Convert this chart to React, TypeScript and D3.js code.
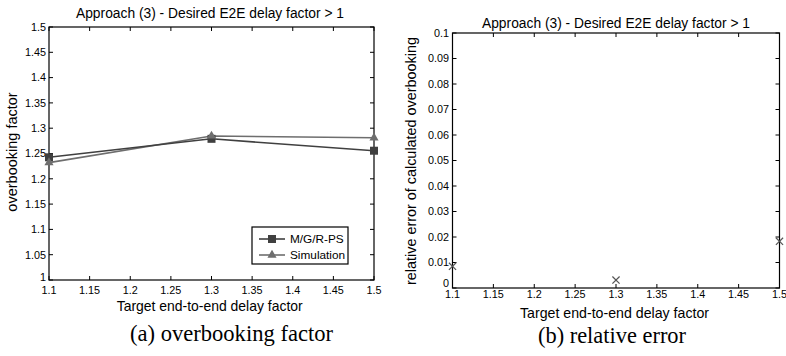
import React from "react";
import * as d3 from "d3";

const delayFactors = [1.1, 1.3, 1.5];
const mgrpsValues = [1.2425, 1.279, 1.2555];
const simulationValues = [1.232, 1.2846, 1.281];
const relErrorValues = [0.0085, 0.0031, 0.0183];

const xTicks = [1.1, 1.15, 1.2, 1.25, 1.3, 1.35, 1.4, 1.45, 1.5];
const yTicksA = [1, 1.05, 1.1, 1.15, 1.2, 1.25, 1.3, 1.35, 1.4, 1.45, 1.5];
const yTicksB = [0, 0.01, 0.02, 0.03, 0.04, 0.05, 0.06, 0.07, 0.08, 0.09, 0.1];

const titleText = "Approach (3) - Desired E2E delay factor > 1";
const xLabel = "Target end-to-end delay factor";
const seriesNames = ["M/G/R-PS", "Simulation"];

const SANS = "'Liberation Sans', Arial, sans-serif";
const SERIF = "'Liberation Serif', 'Times New Roman', serif";
const TICK_LEN = 4;

function fmt(v: number) {
  return String(+v.toFixed(3));
}

function Frame({ x, y, xt, yt }: any) {
  const [x0, x1] = x.range();
  const [y0, y1] = y.range(); // y0 bottom, y1 top
  return (
    <g>
      <rect x={x0} y={y1} width={x1 - x0} height={y0 - y1} fill="none" stroke="#000" strokeWidth={1.2} />
      {xt.map((t: number) => (
        <g key={"x" + t}>
          <line x1={x(t)} x2={x(t)} y1={y0} y2={y0 - TICK_LEN} stroke="#000" />
          <line x1={x(t)} x2={x(t)} y1={y1} y2={y1 + TICK_LEN} stroke="#000" />
        </g>
      ))}
      {yt.map((t: number) => (
        <g key={"y" + t}>
          <line x1={x0} x2={x0 + TICK_LEN} y1={y(t)} y2={y(t)} stroke="#000" />
          <line x1={x1} x2={x1 - TICK_LEN} y1={y(t)} y2={y(t)} stroke="#000" />
        </g>
      ))}
    </g>
  );
}

export default function App() {
  // Panel (a)
  const xA = d3.scaleLinear().domain([1.1, 1.5]).range([49, 374]);
  const yA = d3.scaleLinear().domain([1, 1.5]).range([280, 27]);
  // Panel (b)
  const xB = d3.scaleLinear().domain([1.1, 1.5]).range([452.5, 779.5]);
  const yB = d3.scaleLinear().domain([0, 0.1]).range([288, 33]);

  const lineA = d3
    .line<number>()
    .x((_, i) => xA(delayFactors[i]))
    .y((d) => yA(d));

  const tri = d3.symbol().type(d3.symbolTriangle).size(36)();
  const tickFont = 10.8;
  const titleFont = 13.8;
  const yLabelFont = 14.5;
  const xLabelFont = 13.9;

  const mgColor = "#404040";
  const simColor = "#6e6e6e";

  const legX = 252;
  const legY = 227;

  return (
    <svg
      width={786}
      height={356}
      style={{ position: "absolute", left: 0, top: 0, background: "#fff" }}
      fontFamily={SANS}
    >
      <rect x={0} y={0} width={786} height={356} fill="#fff" />

      {/* ---------- Panel (a) ---------- */}
      <text x={210} y={17.5} fontSize={titleFont} textAnchor="middle" textLength={268} lengthAdjust="spacingAndGlyphs">{titleText}</text>
      <Frame x={xA} y={yA} xt={xTicks} yt={yTicksA} />
      {yTicksA.map((t, i) => (
        <text key={"ya" + t} x={46} y={yA(t) - (i === 0 ? 3 : 0)} dy="0.36em" fontSize={tickFont} textAnchor="end">{fmt(t)}</text>
      ))}
      {xTicks.map((t) => (
        <text key={"xa" + t} x={xA(t)} y={294} fontSize={tickFont} textAnchor="middle">{fmt(t)}</text>
      ))}
      <text x={209.7} y={310.5} fontSize={xLabelFont} textAnchor="middle" textLength={186} lengthAdjust="spacingAndGlyphs">{xLabel}</text>
      <text transform={`translate(17,152) rotate(-90)`} fontSize={yLabelFont} textAnchor="middle">overbooking factor</text>

      <path d={lineA(simulationValues) || ""} fill="none" stroke={simColor} strokeWidth={1.6} />
      <path d={lineA(mgrpsValues) || ""} fill="none" stroke={mgColor} strokeWidth={1.6} />
      {mgrpsValues.map((v, i) => (
        <rect key={"m" + i} x={xA(delayFactors[i]) - 4} y={yA(v) - 4} width={8} height={8} fill={mgColor} />
      ))}
      {simulationValues.map((v, i) => (
        <path key={"s" + i} d={tri || ""} transform={`translate(${xA(delayFactors[i])},${yA(v)})`} fill={simColor} />
      ))}

      {/* legend */}
      <rect x={legX} y={legY} width={96} height={37} fill="#fff" stroke="#000" strokeWidth={1.2} />
      <line x1={legX + 7} x2={legX + 33} y1={legY + 12} y2={legY + 12} stroke={mgColor} strokeWidth={1.6} />
      <rect x={legX + 16} y={legY + 8} width={8} height={8} fill={mgColor} />
      <text x={legX + 38} y={legY + 12} dy="0.36em" fontSize={11.8}>{seriesNames[0]}</text>
      <line x1={legX + 7} x2={legX + 33} y1={legY + 28} y2={legY + 28} stroke={simColor} strokeWidth={1.6} />
      <path d={tri || ""} transform={`translate(${legX + 20},${legY + 28})`} fill={simColor} />
      <text x={legX + 38} y={legY + 28} dy="0.36em" fontSize={11.8}>{seriesNames[1]}</text>

      <text x={231.5} y={341} fontFamily={SERIF} fontSize={22.5} textAnchor="middle" textLength={203} lengthAdjust="spacingAndGlyphs">(a) overbooking factor</text>

      {/* ---------- Panel (b) ---------- */}
      <text x={616} y={27.5} fontSize={titleFont} textAnchor="middle" textLength={268} lengthAdjust="spacingAndGlyphs">{titleText}</text>
      <Frame x={xB} y={yB} xt={xTicks} yt={yTicksB} />
      {yTicksB.map((t, i) => (
        <text key={"yb" + t} x={449} y={yB(t) - (i === 0 ? 5 : 0)} dy="0.36em" fontSize={tickFont} textAnchor="end">{fmt(t)}</text>
      ))}
      {xTicks.map((t) => (
        <text key={"xb" + t} x={xB(t)} y={297.5} fontSize={tickFont} textAnchor="middle">{fmt(t)}</text>
      ))}
      <text x={614.5} y={317.5} fontSize={xLabelFont} textAnchor="middle" textLength={189} lengthAdjust="spacingAndGlyphs">{xLabel}</text>
      <text transform={`translate(416,161) rotate(-90)`} fontSize={yLabelFont} textAnchor="middle" textLength={248} lengthAdjust="spacingAndGlyphs">relative error of calculated overbooking</text>
      {relErrorValues.map((v, i) => {
        const cx = xB(delayFactors[i]);
        const cy = yB(v);
        const s = 3.6;
        return (
          <g key={"e" + i} stroke="#555" strokeWidth={1.2}>
            <line x1={cx - s} x2={cx + s} y1={cy - s} y2={cy + s} />
            <line x1={cx - s} x2={cx + s} y1={cy + s} y2={cy - s} />
          </g>
        );
      })}

      <text x={612} y={343} fontFamily={SERIF} fontSize={22.5} textAnchor="middle" textLength={148} lengthAdjust="spacingAndGlyphs">(b) relative error</text>
    </svg>
  );
}
